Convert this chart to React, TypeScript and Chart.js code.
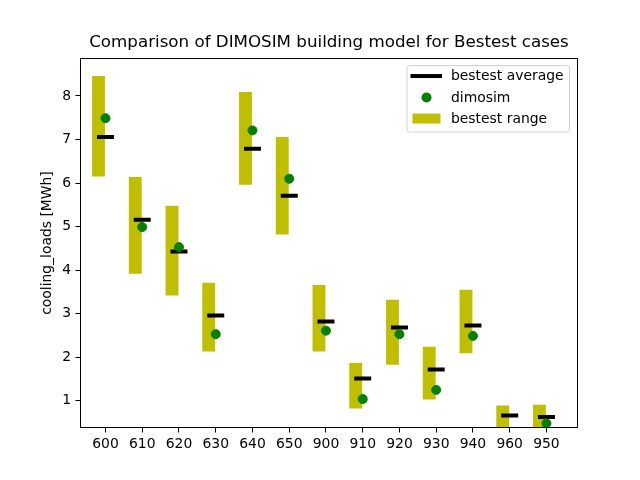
import { useEffect, useRef } from 'react';
import { Chart, registerables } from 'chart.js';

Chart.register(...registerables);

const categories = ['600', '610', '620', '630', '640', '650', '900', '910', '920', '930', '940', '960', '950'];
const rangeMin = [6.15, 3.92, 3.42, 2.13, 5.96, 4.82, 2.13, 0.82, 1.83, 1.03, 2.09, 0.35, 0.33];
const rangeMax = [8.46, 6.14, 5.48, 3.71, 8.09, 7.06, 3.66, 1.87, 3.32, 2.24, 3.55, 0.89, 0.91];
const bestestAverage = [7.06, 5.16, 4.43, 2.96, 6.79, 5.71, 2.82, 1.51, 2.68, 1.72, 2.73, 0.66, 0.63];
const dimosim: (number | null)[] = [7.49, 4.99, 4.53, 2.53, 7.21, 6.10, 2.61, 1.04, 2.53, 1.25, 2.49, null, 0.48];
const yTicks = [1, 2, 3, 4, 5, 6, 7, 8];

const titleText = 'Comparison of DIMOSIM building model for Bestest cases';
const yTitle = 'cooling_loads [MWh]';
const seriesNames = ['bestest average', 'dimosim', 'bestest range'];

const FONT = 'DejaVu Sans';
const OLIVE = '#bfbf00';
const GREEN = '#008000';
const BAR_OFFSET = -0.19;

const framePlugin = {
  id: 'mplFrame',
  afterDatasetsDraw(chart: any) {
    const { ctx, chartArea: a } = chart;
    ctx.save();
    ctx.strokeStyle = '#000';
    ctx.lineWidth = 1;
    ctx.strokeRect(a.left, a.top, a.right - a.left, a.bottom - a.top);
    ctx.restore();
  },
};

const legendPlugin = {
  id: 'mplLegend',
  afterDraw(chart: any) {
    const { ctx, chartArea: a } = chart;
    const w = 162.5;
    const h = 66.5;
    const x = a.right - 8 - w;
    const y = a.top + 7;
    ctx.save();
    ctx.beginPath();
    if (ctx.roundRect) ctx.roundRect(x, y, w, h, 3);
    else ctx.rect(x, y, w, h);
    ctx.fillStyle = 'rgba(255,255,255,0.8)';
    ctx.fill();
    ctx.strokeStyle = 'rgba(204,204,204,0.9)';
    ctx.lineWidth = 1;
    ctx.stroke();

    const rows = [y + 10.5, y + 32, y + 53];
    // bestest average sample
    ctx.strokeStyle = '#000';
    ctx.lineWidth = 4;
    ctx.beginPath();
    ctx.moveTo(x + 3.5, rows[0]);
    ctx.lineTo(x + 35, rows[0]);
    ctx.stroke();
    // dimosim sample
    ctx.fillStyle = GREEN;
    ctx.beginPath();
    ctx.arc(x + 19.5, rows[1], 5, 0, Math.PI * 2);
    ctx.fill();
    // bestest range sample
    ctx.fillStyle = OLIVE;
    ctx.fillRect(x + 5.5, rows[2] - 5, 28, 10);

    ctx.fillStyle = '#000';
    ctx.font = `13.9px "${FONT}"`;
    ctx.textBaseline = 'middle';
    ctx.textAlign = 'left';
    seriesNames.forEach((name, i) => {
      ctx.fillText(name, x + 44, rows[i] + 0.5);
    });
    ctx.restore();
  },
};

export default function App() {
  const ref = useRef<HTMLCanvasElement | null>(null);

  useEffect(() => {
    const canvas = ref.current;
    if (!canvas) return;
    Chart.defaults.font.family = FONT;
    Chart.defaults.color = '#000';

    const chart = new Chart(canvas, {
      type: 'scatter',
      data: {
        datasets: [
          {
            type: 'scatter',
            label: seriesNames[1],
            data: categories.map((_, i) => ({ x: i, y: dimosim[i] as any })),
            backgroundColor: GREEN,
            borderColor: GREEN,
            pointRadius: 4.5,
            pointBorderWidth: 1,
            clip: 0,
            order: 0,
          } as any,
          {
            type: 'scatter',
            label: seriesNames[0],
            data: categories.map((_, i) => ({ x: i, y: bestestAverage[i] })),
            pointStyle: 'line',
            pointRadius: 8.5,
            pointBorderWidth: 4,
            borderColor: '#000',
            backgroundColor: '#000',
            clip: 0,
            order: 1,
          } as any,
          {
            type: 'bar',
            label: seriesNames[2],
            data: categories.map((_, i) => ({ x: i + BAR_OFFSET, y: [rangeMin[i], rangeMax[i]] })),
            backgroundColor: OLIVE,
            borderWidth: 0,
            barPercentage: 0.35,
            categoryPercentage: 1,
            grouped: false,
            clip: 0,
            order: 2,
          } as any,
        ],
      },
      options: {
        responsive: false,
        animation: false,
        devicePixelRatio: 1,
        events: [],
        layout: { padding: { left: 0, right: 62.5, top: 0, bottom: 0 } },
        plugins: {
          legend: { display: false },
          tooltip: { enabled: false },
          title: {
            display: true,
            text: titleText,
            fullSize: false,
            color: '#000',
            font: { family: FONT, size: 16.7, weight: 'normal' },
            padding: { top: 33, bottom: 5.5 },
          },
        },
        scales: {
          x: {
            type: 'linear',
            min: -0.68,
            max: 12.845,
            offset: false,
            afterBuildTicks: (axis: any) => {
              axis.ticks = categories.map((_, i) => ({ value: i }));
            },
            afterFit: (axis: any) => {
              axis.height = 52.5;
            },
            grid: {
              display: true,
              drawOnChartArea: false,
              drawTicks: true,
              tickLength: 5,
              color: '#000',
              offset: false,
            },
            border: { display: false },
            ticks: {
              autoSkip: false,
              maxRotation: 0,
              padding: 4,
              color: '#000',
              font: { family: FONT, size: 13.9 },
              callback: (value: any) => categories[value] ?? '',
            },
          },
          y: {
            type: 'linear',
            min: 0.386,
            max: 8.86,
            afterBuildTicks: (axis: any) => {
              axis.ticks = yTicks.map((v) => ({ value: v }));
            },
            afterFit: (axis: any) => {
              axis.width = 80.5;
            },
            grid: {
              display: true,
              drawOnChartArea: false,
              drawTicks: true,
              tickLength: 5,
              color: '#000',
            },
            border: { display: false },
            ticks: {
              padding: 4.5,
              color: '#000',
              font: { family: FONT, size: 13.9 },
              callback: (value: any) => String(value),
            },
            title: {
              display: true,
              text: yTitle,
              color: '#000',
              font: { family: FONT, size: 13.9 },
              padding: { top: 39.5, bottom: 0 },
            },
          },
        },
      } as any,
      plugins: [framePlugin, legendPlugin],
    });

    return () => chart.destroy();
  }, []);

  return (
    <div style={{ position: 'fixed', left: 0, top: 0, width: 640, height: 480, background: '#fff' }}>
      <canvas ref={ref} width={640} height={480} style={{ display: 'block' }} />
    </div>
  );
}
